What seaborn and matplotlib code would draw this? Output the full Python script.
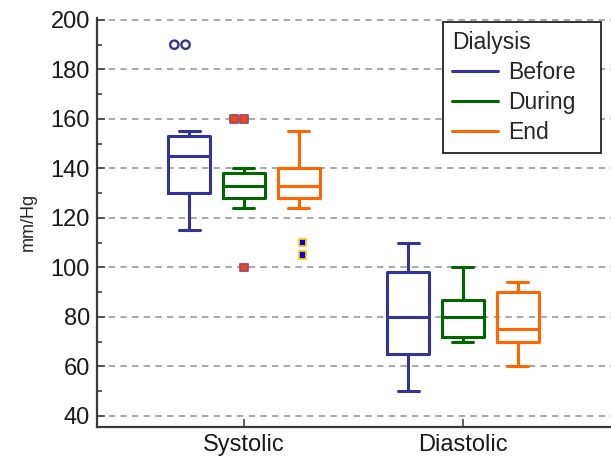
import numpy as np
import pandas as pd
import matplotlib
matplotlib.use("Agg")
import matplotlib.pyplot as plt
from matplotlib.lines import Line2D
from matplotlib.ticker import MultipleLocator
import seaborn as sns

# ── data ───────────────────────────────────────────────────────────────────
groups = ["Systolic", "Diastolic"]
phases = ["Before", "During", "End"]
line_colors = ["#333399", "#006600", "#FF6600"]

# five-number summaries: min, Q1, median, Q3, max
sys_before = [115, 130, 145, 153, 155]
sys_during = [124, 128, 133, 138, 140]
sys_end = [124, 128, 133, 140, 155]
dia_before = [50, 65, 80, 98, 110]
dia_during = [70, 72, 80, 87, 100]
dia_end = [60, 70, 75, 90, 94]

# outliers (all on the systolic group)
out_before = [190, 190]
out_during = [160, 160, 100]
out_end = [110, 105]

# ── long tables ────────────────────────────────────────────────────────────
rows = []
for grp, ph, vals in [("Systolic", "Before", sys_before), ("Systolic", "During", sys_during),
                      ("Systolic", "End", sys_end), ("Diastolic", "Before", dia_before),
                      ("Diastolic", "During", dia_during), ("Diastolic", "End", dia_end)]:
    rows += [(grp, ph, v) for v in vals]
box_df = pd.DataFrame(rows, columns=["BP", "Dialysis", "mmHg"])

rows = []
for ph, vals in [("Before", out_before), ("During", out_during), ("End", out_end)]:
    rows += [("Systolic", ph, v) for v in vals]
out_df = pd.DataFrame(rows, columns=["BP", "Dialysis", "mmHg"])

# ── plot ───────────────────────────────────────────────────────────────────
sns.set_theme(style="ticks")
plt.rcParams["font.family"] = ["Liberation Sans", "DejaVu Sans"]

fig = plt.figure(figsize=(6.11, 4.59), dpi=100)
ax = fig.add_axes([97 / 611, 1 - 427 / 459, 1 - 97 / 611, (427 - 17.5) / 459])

sns.boxplot(data=box_df, x="BP", y="mmHg", hue="Dialysis", order=groups,
            hue_order=phases, palette=line_colors, fill=False, width=0.75,
            gap=0.23, whis=(0, 100), linewidth=2.2, showfliers=False,
            legend=False, ax=ax)

flier_style = {
    "Before": dict(marker="o", face="white", edge="#333399", size=6, lw=1.7),
    "During": dict(marker="s", face="#F04A10", edge="#A04870", size=5.5, lw=1.3),
    "End": dict(marker="s", face="#0000EE", edge="#FFCC00", size=5.5, lw=1.3),
}
for ph in phases:
    st = flier_style[ph]
    sns.swarmplot(data=out_df[out_df["Dialysis"] == ph], x="BP", y="mmHg",
                  hue="Dialysis", order=groups, hue_order=phases,
                  palette={p: st["face"] for p in phases}, dodge=True,
                  marker=st["marker"], size=st["size"], edgecolor=st["edge"],
                  linewidth=st["lw"], legend=False, ax=ax, zorder=4)

ax.set_xlim(-0.671, 1.676)
ax.set_ylim(35.5, 201)
ax.yaxis.set_major_locator(MultipleLocator(20))
ax.yaxis.set_minor_locator(MultipleLocator(10))
ax.yaxis.grid(True, linestyle=(0, (3.3, 2.7)), color="#A8A8A8", linewidth=1.4)
ax.set_axisbelow(True)

for side in ["top", "right"]:
    ax.spines[side].set_visible(False)
for side in ["left", "bottom"]:
    ax.spines[side].set_linewidth(1.6)
    ax.spines[side].set_color("#3a3a3a")

ax.tick_params(axis="both", which="major", direction="in", length=6, width=1.2,
               color="#404040", labelsize=17, pad=5, labelcolor="#1a1a1a")
ax.tick_params(axis="y", which="minor", direction="in", length=3.5, width=1.2,
               color="#404040")
ax.set_xlabel("")
ax.set_ylabel("mm/Hg", fontsize=13, labelpad=10)

handles = [Line2D([], [], color=c, lw=2.2) for c in line_colors]
leg = ax.legend(handles, phases, title="Dialysis", loc="upper left",
                bbox_to_anchor=((443 - 97) / 514, 0.979, (601 - 443) / 514, 0.01),
                mode="expand", borderaxespad=0, fontsize=16.5,
                title_fontsize=16.5, alignment="left", fancybox=False,
                framealpha=1, edgecolor="#222222", handlelength=2,
                handletextpad=0.45, labelspacing=0.3, borderpad=0.4)
leg.get_frame().set_linewidth(1.3)

fig.savefig("out.png", dpi=100)
